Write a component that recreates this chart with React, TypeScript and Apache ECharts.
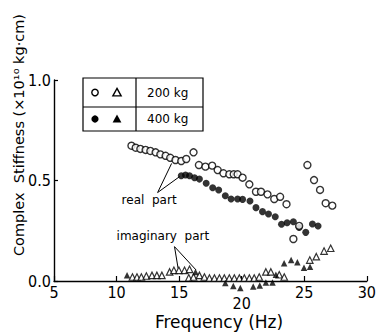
import React, { useEffect, useRef } from "react";
import * as echarts from "echarts";

// 200 kg, real part (open circles): [frequency Hz, stiffness]
const real200: number[][] = [
  [11.19, 0.673], [11.53, 0.663], [11.9, 0.657], [12.32, 0.652], [12.7, 0.647],
  [13.12, 0.64], [13.5, 0.63], [13.92, 0.623], [14.29, 0.613], [14.71, 0.602],
  [15.17, 0.597], [15.57, 0.607], [16.15, 0.64], [16.58, 0.577], [17.1, 0.569],
  [17.64, 0.574], [18.08, 0.552], [18.54, 0.536], [19.01, 0.531], [19.36, 0.531],
  [19.67, 0.531], [20.07, 0.514], [20.61, 0.481], [21.14, 0.444], [21.54, 0.444],
  [22.06, 0.431], [22.6, 0.408], [23.07, 0.419], [23.58, 0.382], [24.13, 0.209],
  [24.59, 0.274], [25.25, 0.577], [25.78, 0.502], [26.26, 0.453], [26.71, 0.387],
  [27.24, 0.375],
];

// 400 kg, real part (filled circles)
const real400: number[][] = [
  [15.17, 0.524], [15.51, 0.527], [15.83, 0.524], [16.23, 0.514], [16.62, 0.507],
  [17.16, 0.486], [17.68, 0.464], [18.16, 0.453], [18.69, 0.424], [19.15, 0.408],
  [19.67, 0.408], [20.07, 0.406], [20.66, 0.398], [21.14, 0.365], [21.66, 0.345],
  [22.14, 0.333], [22.68, 0.32], [23.18, 0.282], [23.63, 0.29], [24.13, 0.295],
  [24.59, 0.266], [25.12, 0.242], [25.65, 0.284], [26.1, 0.274],
];

// 200 kg, imaginary part (open triangles)
const imag200: number[][] = [
  [11.27, 0.02], [11.63, 0.02], [11.98, 0.02], [12.38, 0.025], [12.83, 0.028],
  [13.22, 0.028], [13.62, 0.028], [14.24, 0.045], [14.58, 0.053], [14.98, 0.053],
  [15.43, 0.053], [15.83, 0.058], [15.77, 0.016], [16.15, 0.02], [16.62, 0.028],
  [17.02, 0.02], [17.42, 0.015], [17.82, 0.015], [18.22, 0.015], [18.61, 0.015],
  [19.01, 0.015], [19.41, 0.015], [19.81, 0.015], [20.21, 0.015], [20.61, 0.015],
  [21.0, 0.015], [21.4, 0.02], [21.93, 0.045], [22.33, 0.045], [23.0, 0.031],
  [23.4, 0.02], [25.44, 0.104], [25.96, 0.121], [26.58, 0.149], [27.11, 0.163],
];

// 400 kg, imaginary part (filled triangles)
const imag400: number[][] = [
  [10.84, 0.028], [16.31, 0.045], [18.69, -0.01], [19.33, -0.025], [19.89, -0.035],
  [20.92, -0.027], [21.44, -0.022], [21.93, -0.007], [22.46, -0.007], [22.73, 0.031],
  [23.39, 0.088], [23.95, 0.104], [24.45, 0.093], [24.98, 0.066], [25.46, 0.071],
];

const legendLabels = ["200 kg", "400 kg"];
const xTitle = "Frequency (Hz)";
const yTitle = "Complex  Stiffness (×10¹⁰ kg·cm)";

// annotation anchors in data coordinates
const realLabel = { text: "real  part", at: [12.6, 0.405], from: [13.28, 0.44], to: [[14.4, 0.585], [15.05, 0.52]] };
const imagLabel = { text: "imaginary  part", at: [13.7, 0.224], from: [14.63, 0.171], to: [[14.92, 0.062], [16.35, 0.055]] };

const FONT = "DejaVu Sans";
const TICKFONT = "DejaVu Sans Condensed";

export default function App() {
  const ref = useRef<HTMLDivElement>(null);
  useEffect(() => {
    if (!ref.current) return;
    const chart = echarts.init(ref.current, null, { renderer: "svg" });
    const open = { color: "#fff", borderColor: "#000", borderWidth: 1.4 };
    const filled = { color: "#000" };
    chart.setOption({
      animation: false,
      backgroundColor: "#fff",
      grid: { left: 54, right: 11, top: 80, bottom: 55 },
      xAxis: {
        type: "value",
        min: 5,
        max: 30,
        interval: 5,
        axisLine: { lineStyle: { color: "#000", width: 1.4 } },
        axisTick: { inside: true, length: 5, lineStyle: { color: "#000", width: 1.2 } },
        splitLine: { show: false },
        axisLabel: {
          margin: 3,
          color: "#000",
          fontSize: 16,
          fontFamily: TICKFONT,
          formatter: (v: number) => (v === 20 ? "{low|20}" : "{n|" + v + "}"),
          rich: {
            n: { fontSize: 16, fontFamily: TICKFONT, color: "#000" },
            low: { fontSize: 16, fontFamily: TICKFONT, color: "#000", padding: [11, 0, 0, 0] },
          },
        },
      },
      yAxis: {
        type: "value",
        min: 0,
        max: 1,
        interval: 0.5,
        axisLine: { show: true, lineStyle: { color: "#000", width: 1.4 } },
        axisTick: { show: true, inside: true, length: 4, lineStyle: { color: "#000", width: 1.2 } },
        splitLine: { show: false },
        axisLabel: {
          margin: 3,
          color: "#000",
          fontSize: 16,
          fontFamily: TICKFONT,
          formatter: (v: number) => v.toFixed(1),
        },
      },
      series: [
        { type: "scatter", name: "400 kg real", data: real400, symbol: "circle", symbolSize: 7, itemStyle: filled, clip: false },
        { type: "scatter", name: "200 kg real", data: real200, symbol: "circle", symbolSize: 7, itemStyle: open, clip: false },
        { type: "scatter", name: "200 kg imag", data: imag200, symbol: "triangle", symbolSize: 6.5, itemStyle: { ...open, borderWidth: 1.2 }, clip: false },
        { type: "scatter", name: "400 kg imag", data: imag400, symbol: "triangle", symbolSize: 6.5, itemStyle: filled, clip: false },
      ],
    });

    const px = (p: number[]) => chart.convertToPixel({ gridIndex: 0 }, p) as number[];
    const annot = (a: typeof realLabel) => {
      const f = px(a.from);
      const t = px(a.at);
      const els: any[] = a.to.map((q) => {
        const e = px(q);
        return { type: "line", shape: { x1: f[0], y1: f[1], x2: e[0], y2: e[1] }, style: { stroke: "#000", lineWidth: 1 } };
      });
      els.push({
        type: "text",
        x: t[0],
        y: t[1],
        style: { text: a.text, fontSize: 12, fontFamily: FONT, fill: "#000", align: "center", verticalAlign: "middle" },
      });
      return els;
    };

    const L = { x: 83, y: 78, w: 120, h: 53, div: 136, mid: 107 };
    const tri = (cx: number, cy: number, s: number) => [[cx, cy - s * 0.55], [cx + s * 0.55, cy + s * 0.45], [cx - s * 0.55, cy + s * 0.45]];
    const row1 = (L.y + L.mid) / 2;
    const row2 = (L.mid + L.y + L.h) / 2;
    const graphic: any[] = [
      { type: "rect", shape: { x: L.x, y: L.y, width: L.w, height: L.h }, style: { fill: "#fff", stroke: "#000", lineWidth: 1.2 } },
      { type: "line", shape: { x1: L.div, y1: L.y, x2: L.div, y2: L.y + L.h }, style: { stroke: "#000", lineWidth: 1.2 } },
      { type: "line", shape: { x1: L.x, y1: L.mid, x2: L.x + L.w, y2: L.mid }, style: { stroke: "#000", lineWidth: 1.2 } },
      { type: "circle", shape: { cx: 95, cy: row1, r: 3.2 }, style: { fill: "#fff", stroke: "#000", lineWidth: 1.4 } },
      { type: "polygon", shape: { points: tri(117, row1, 7.5) }, style: { fill: "#fff", stroke: "#000", lineWidth: 1.4 } },
      { type: "circle", shape: { cx: 95, cy: row2, r: 3.6 }, style: { fill: "#000" } },
      { type: "polygon", shape: { points: tri(117, row2, 8) }, style: { fill: "#000" } },
      { type: "text", x: 147, y: row1, style: { text: legendLabels[0], fontSize: 12, fontFamily: FONT, fill: "#000", align: "left", verticalAlign: "middle" } },
      { type: "text", x: 147, y: row2, style: { text: legendLabels[1], fontSize: 12, fontFamily: FONT, fill: "#000", align: "left", verticalAlign: "middle" } },
      { type: "text", x: 219, y: 322, style: { text: xTitle, fontSize: 17, fontFamily: FONT, fill: "#000", align: "center", verticalAlign: "middle" } },
      { type: "text", x: 19, y: 135, rotation: Math.PI / 2, style: { text: yTitle, fontSize: 14.5, fontFamily: FONT, fill: "#000", align: "center", verticalAlign: "middle" } },
      ...annot(realLabel),
      ...annot(imagLabel),
    ];
    chart.setOption({ graphic });
    return () => chart.dispose();
  }, []);
  return <div ref={ref} style={{ width: 379, height: 336, position: "absolute", left: 0, top: 0 }} />;
}
